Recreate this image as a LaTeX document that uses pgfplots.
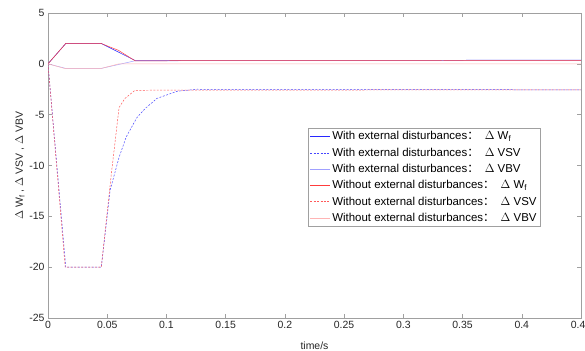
\documentclass[border=0pt]{standalone}
\usepackage{fontspec}
\setmainfont{Liberation Sans}
\newfontfamily\cjk{Noto Sans CJK SC}
\usepackage{pgfplots}
\pgfplotsset{compat=1.18}
\definecolor{bl}{RGB}{40,40,255}
\definecolor{bld}{RGB}{70,70,255}
\definecolor{lbl}{RGB}{160,160,255}
\definecolor{rd}{RGB}{255,60,60}
\definecolor{rdd}{RGB}{255,90,90}
\definecolor{lrd}{RGB}{255,180,180}
\definecolor{axc}{RGB}{160,160,160}
\definecolor{txt}{RGB}{38,38,38}
\newcommand{\fwcolon}{{\cjk ：}\hspace{6bp}}
\begin{document}
\begin{tikzpicture}
\begin{axis}[
  at={(0,0)}, anchor=south west,
  scale only axis, width=533bp, height=305bp,
  xmin=0, xmax=0.45, ymin=-25, ymax=5,
  xtick={0,0.05,...,0.45}, ytick={-25,-20,...,5},
  scaled x ticks=false,
  xticklabel style={/pgf/number format/fixed, /pgf/number format/precision=2},
  /pgf/number format/assume math mode=true,
  tick align=inside, tick pos=both,
  major tick length=4bp,
  axis line style={axc, line width=0.5pt},
  tick style={axc, line width=0.5pt},
  ticklabel style={font=\fontsize{10.5}{12}\selectfont, text=txt},
  xlabel={time/s}, ylabel={$\Delta$ W\textsubscript{f} , $\Delta$ VSV , $\Delta$ VBV},
  label style={font=\fontsize{10.5}{12}\selectfont, text=txt},
  xlabel style={yshift=-6bp},
  ylabel style={yshift=-2bp},
  legend style={at={(0.488,0.623)}, anchor=north west, draw=axc, fill=white,
    font=\fontsize{11.5}{13}\selectfont, inner sep=1.5pt,
    row sep=2.5bp, cells={anchor=west}},
  legend image code/.code={\draw[mark repeat=2,mark phase=2,#1] plot coordinates {(0bp,0bp) (10bp,0bp) (20bp,0bp)};},
]
\addplot[color=bl, line width=0.5pt] coordinates {(0,0) (0.015,2) (0.045,2) (0.0735,0.33) (0.45,0.36)};
\addlegendentry{With external disturbances\fwcolon$\Delta$ W\textsubscript{f}}
\addplot[color=bld, line width=0.5pt, dash pattern=on 2pt off 1.5pt] coordinates {(0,0) (0.015,-20) (0.045,-20) (0.0525,-12.4) (0.06,-9.2) (0.066,-7.2) (0.075,-5.3) (0.082,-4.4) (0.092,-3.4) (0.109,-2.7) (0.126,-2.5) (0.45,-2.56)};
\addlegendentry{With external disturbances\fwcolon$\Delta$ VSV}
\addplot[color=lbl, line width=0.5pt] coordinates {(0,0) (0.015,-0.45) (0.045,-0.45) (0.0735,0.3) (0.45,0.33)};
\addlegendentry{With external disturbances\fwcolon$\Delta$ VBV}
\addplot[color=rd, line width=0.5pt] coordinates {(0,0) (0.015,2) (0.045,2) (0.0594,1.33) (0.0735,0.3) (0.45,0.34)};
\addlegendentry{Without external disturbances\fwcolon$\Delta$ W\textsubscript{f}}
\addplot[color=rdd, line width=0.5pt, dash pattern=on 2pt off 1.5pt] coordinates {(0,0) (0.0145,-20) (0.045,-20) (0.0535,-10.8) (0.06,-4.3) (0.065,-3.4) (0.0735,-2.6) (0.45,-2.55)};
\addlegendentry{Without external disturbances\fwcolon$\Delta$ VSV}
\addplot[color=lrd, line width=0.5pt] coordinates {(0,0) (0.014,-0.45) (0.045,-0.45) (0.06,0) (0.45,0)};
\addlegendentry{Without external disturbances\fwcolon$\Delta$ VBV}
\end{axis}
\pgfresetboundingbox
\path[use as bounding box] (-48bp,-33bp) rectangle (537bp,318bp);
\end{tikzpicture}
\end{document}
